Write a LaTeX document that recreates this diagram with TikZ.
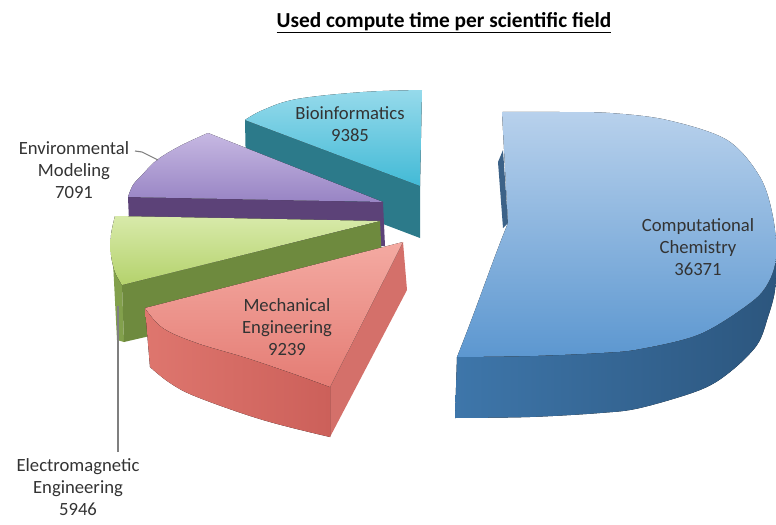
\documentclass[tikz,border=0pt]{standalone}
\usepackage{fontspec}
\setmainfont{Carlito}
\definecolor{txt}{HTML}{333333}
\definecolor{leader}{HTML}{7F7F7F}
\tikzset{
  lbl/.style={align=center, text=txt, font=\fontsize{14}{16.5}\selectfont, inner sep=0pt},
  ttl/.style={text=black, font=\bfseries\fontsize{16}{19}\selectfont, inner sep=0pt},
  ldr/.style={draw=leader, line width=0.8pt},
  chemtop/.style={top color={rgb,255:red,184;green,209;blue,236}, bottom color={rgb,255:red,92;green,151;blue,208}},
  chemside/.style={left color={rgb,255:red,62;green,118;blue,170}, right color={rgb,255:red,44;green,86;blue,126}},
  chemedge/.style={fill={rgb,255:red,60;green,98;blue,136}},
  biotop/.style={top color={rgb,255:red,150;green,218;blue,235}, bottom color={rgb,255:red,66;green,186;blue,214}},
  bioside/.style={fill={rgb,255:red,44;green,122;blue,138}},
  envtop/.style={top color={rgb,255:red,198;green,184;blue,226}, bottom color={rgb,255:red,152;green,132;blue,196}},
  envside/.style={fill={rgb,255:red,92;green,66;blue,120}},
  emtop/.style={top color={rgb,255:red,216;green,234;blue,170}, bottom color={rgb,255:red,180;green,210;blue,108}},
  emside/.style={fill={rgb,255:red,110;green,138;blue,62}},
  emrim/.style={fill={rgb,255:red,130;green,160;blue,76}},
  mechtop/.style={top color={rgb,255:red,244;green,170;blue,162}, bottom color={rgb,255:red,228;green,124;blue,116}},
  mechside/.style={left color={rgb,255:red,222;green,118;blue,110}, right color={rgb,255:red,204;green,96;blue,90}},
  mechedge/.style={fill={rgb,255:red,212;green,112;blue,106}},
}
\begin{document}
\begin{tikzpicture}[x=0.75pt,y=-0.75pt]
\useasboundingbox (0,0) rectangle (776,525);

% title
\node[ttl] (title) at (444,23) {\underline{Used compute time per scientific field}};

% ---------- Bioinformatics ----------
\fill[bioside] (245,120) -- (420,186) -- (420,238) -- (246,172) -- cycle;
\fill[biotop] plot[smooth, tension=0.6] coordinates {(245,120) (263,110) (297,99) (363,92) (422,90)} -- (420,186) -- cycle;

% ---------- Environmental Modeling ----------
\fill[envside] (128,197) -- (383,202) -- (385,246) -- (130,246) -- cycle;
\fill[envtop] plot[smooth, tension=0.6] coordinates {(128,197) (133,185) (142,175) (157,160) (180,146) (208,133)} -- (383,202) -- cycle;

% ---------- Electromagnetic Engineering ----------
\fill[emrim] (113,262) -- (122,285) -- (124,342) -- (117,340) -- cycle;
\fill[emside] (122,285) -- (380,221) -- (383,282) -- (124,342) -- cycle;
\fill[emtop] (380,221) -- (115,216) -- plot[smooth, tension=0.6] coordinates {(115,216) (111,235) (111,255) (115,272) (122,285)} -- cycle;

% ---------- Mechanical Engineering ----------
\fill[mechedge] (403,242) -- (330,387) -- (330,437) -- (407,290) -- cycle;
\fill[mechside] plot[smooth, tension=0.6] coordinates {(145,308) (163,328) (197,343) (247,358) (297,375) (330,387)} -- (330,437) -- plot[smooth, tension=0.6] coordinates {(330,437) (263,420) (197,397) (170,383) (150,367)} -- cycle;
\fill[mechtop] (403,242) -- (145,308) -- plot[smooth, tension=0.6] coordinates {(145,308) (163,328) (197,343) (247,358) (297,375) (330,387)} -- cycle;

% ---------- Computational Chemistry ----------
\fill[chemedge] (503,150) -- (498,162) -- (503,228) -- (508,223) -- cycle;
\fill[chemside] plot[smooth, tension=0.55] coordinates {(457,357) (530,356) (600,353) (640,349) (700,334) (750,303) (768,283) (776,257)} -- plot[smooth, tension=0.55] coordinates {(776,257) (775,290) (768,317) (757,345) (730,372) (700,390) (640,408) (600,413) (530,417) (455,418)} -- cycle;
\fill[chemtop] plot[smooth, tension=0.55] coordinates {(502,112) (560,112) (610,113) (667,120) (727,140) (760,177) (773,217) (776,257) (768,283) (750,303) (700,334) (640,349) (600,353) (530,356) (457,357)} .. controls (476,310) and (492,262) .. (508,223) -- cycle;

% ---------- labels ----------
\node[lbl] (chem) at (698,247) {Computational\\Chemistry\\36371};
\node[lbl] (bio) at (350,124) {Bioinformatics\\9385};
\node[lbl] (env) at (74,170) {Environmental\\Modeling\\7091};
\node[lbl] (mech) at (287,327) {Mechanical\\Engineering\\9239};
\node[lbl] (em) at (78,487) {Electromagnetic\\Engineering\\5946};

% ---------- leader lines ----------
\coordinate (envA) at (135,151);
\coordinate (envB) at (142,152);
\coordinate (envC) at (158,160);
\draw[ldr] (envA) -- (envB) -- (envC);
\coordinate (emA) at (118,452);
\coordinate (emB) at (118,306);
\draw[ldr] (emA) -- (emB);
\end{tikzpicture}
\end{document}
